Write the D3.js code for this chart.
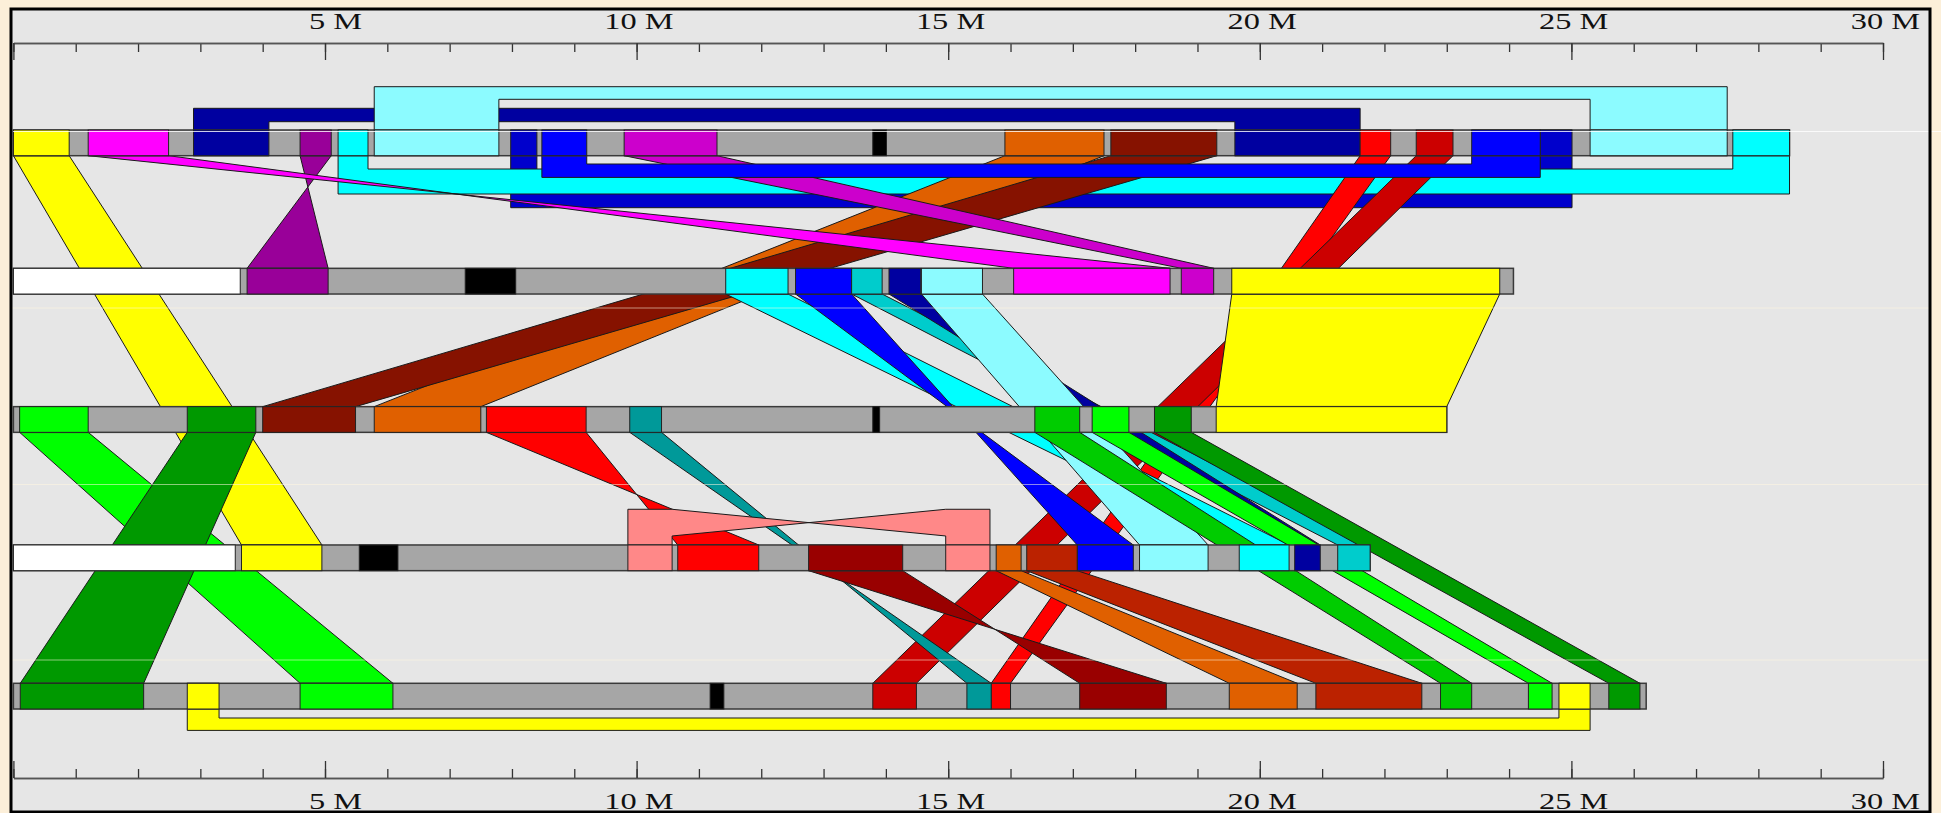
<!DOCTYPE html>
<html>
<head>
<meta charset="utf-8">
<script src="https://cdn.jsdelivr.net/npm/d3@7"></script>
<style>
  body { margin: 0; background: #fcefd9; overflow: hidden; }
  .tick line { stroke: #333; stroke-width: 1.3; }
  .domain { stroke: #555; stroke-width: 1.3; }
  .label { font-family: "Liberation Serif", "Times New Roman", serif; font-size: 24px; fill: #111; }
</style>
</head>
<body>
<div id="main"></div>
<script>
// ---- data (megabases) ----
const rowLengths = [28.5, 24.07, 23.0, 21.77, 26.2];

const majorTicks = [0, 5, 10, 15, 20, 25, 30];
const tickLabels = ["", "5 M", "10 M", "15 M", "20 M", "25 M", "30 M"];
const minorTicks = [0,1,2,3,4,5,6,7,8,9,10,11,12,13,14,15,16,17,18,19,20,21,22,23,24,25,26,27,28,29,30];

// [row, start, end]
const centromeres = [[0, 13.79, 14.01], [1, 7.25, 8.06], [2, 13.79, 13.90], [3, 5.55, 6.17], [4, 11.18, 11.40]];
const unassigned = [[1, 0, 3.64], [3, 0, 3.56]];

// synteny links: [id, colour, row A, startA, endA, row B, startB, endB, reversed]
// listed in drawing order
const links = [
  ["medblueSelf", "medblue", 0, 7.98, 8.40, 0, 24.50, 25.01, false],
  ["cyanSelf",    "cyan",    0, 5.21, 5.69, 0, 27.59, 28.50, false],
  ["navySelf",    "navy",    0, 2.89, 4.10, 0, 19.60, 21.61, false],
  ["lcyanSelf",   "lightcyan", 0, 5.79, 7.79, 0, 25.30, 27.50, false],
  ["yellow14",    "yellow",  0, 0.00, 0.895, 3, 3.66, 4.95, false],
  ["red15",       "red",     0, 21.61, 22.10, 4, 15.69, 16.00, false],
  ["red15b",      "red2",    0, 22.51, 23.10, 4, 13.79, 14.49, false],
  ["orange13",    "orange",  0, 15.91, 17.50, 2, 5.79, 7.50, false],
  ["brown13",     "brown",   0, 17.61, 19.31, 2, 4.00, 5.49, false],
  ["purple12",    "purple",  0, 4.60, 5.10, 1, 3.75, 5.05, true],
  ["magenta12",   "magenta", 0, 1.20, 2.49, 1, 16.05, 18.56, true],
  ["orchid12",    "orchid",  0, 9.80, 11.29, 1, 18.74, 19.26, false],
  ["blueSelf",    "blue",    0, 8.48, 9.20, 0, 23.40, 24.50, false],
  ["yellow23",    "yellow",  1, 19.55, 23.85, 2, 19.30, 23.00, false],
  ["cyan24",      "cyan",    1, 11.43, 12.43, 3, 19.67, 20.47, false],
  ["blue24",      "blue",    1, 12.55, 13.45, 3, 17.07, 17.97, true],
  ["teal24",      "teal",    1, 13.45, 13.94, 3, 21.25, 21.77, false],
  ["navy24",      "navy",    1, 14.05, 14.56, 3, 20.56, 20.97, false],
  ["lcyan24",     "lightcyan", 1, 14.57, 15.55, 3, 18.07, 19.17, false],
  ["red34",       "red",     2, 7.59, 9.19, 3, 10.66, 11.96, true],
  ["teal35",      "teal2",   2, 9.89, 10.40, 4, 15.30, 15.69, true],
  ["green35",     "green",   2, 0.10, 1.20, 4, 4.60, 6.09, false],
  ["dkgreen35",   "dkgreen", 2, 2.79, 3.89, 4, 0.11, 2.09, false],
  ["green35b",    "green2",  2, 16.39, 17.11, 4, 22.90, 23.40, false],
  ["green35c",    "green",   2, 17.31, 17.90, 4, 24.31, 24.69, false],
  ["dkgreen35b",  "dkgreen", 2, 18.31, 18.90, 4, 25.60, 26.10, false],
  ["pinkSelf",    "pink",    3, 9.86, 10.57, 3, 14.96, 15.67, true],
  ["dkred45",     "dkred",   3, 12.76, 14.27, 4, 17.11, 18.50, true],
  ["orange45",    "orange",  3, 15.77, 16.17, 4, 19.51, 20.60, false],
  ["rust45",      "rust",    3, 16.26, 17.07, 4, 20.90, 22.60, false],
  ["yellowSelf",  "yellow",  4, 2.79, 3.30, 4, 24.80, 25.30, false]
];

// ---- styles / layout ----
const palette = {
  yellow: "#ffff00", magenta: "#ff00ff", navy: "#0000a0", purple: "#990099",
  cyan: "#00ffff", lightcyan: "#8cfbff", medblue: "#0000cc", blue: "#0000ff",
  orchid: "#cc00cc", orange: "#e06000", brown: "#861200", red: "#ff0000",
  red2: "#cc0000", teal: "#00cccc", teal2: "#009999", green: "#00ff00",
  dkgreen: "#009900", green2: "#00cc00", pink: "#ff8888", dkred: "#990000",
  rust: "#bb2200"
};

// same-chromosome links are drawn as brackets; offsets in px from the row edge
const lanes = {
  medblueSelf: { side: "below", inner: 37, outer: 52 },
  cyanSelf:    { side: "below", inner: 13.3, outer: 38.3 },
  blueSelf:    { side: "below", inner: 8.3, outer: 21.7 },
  navySelf:    { side: "above", inner: 8.3, outer: 21.7 },
  lcyanSelf:   { side: "above", inner: 30.7, outer: 43.3 },
  pinkSelf:    { side: "above", inner: 9, outer: 35.7 },
  yellowSelf:  { side: "below", inner: 9, outer: 21.4 }
};

const width = 1941, height = 813;
const rowH = 25.7;

const svg = d3.select('#main').append('svg')
  .attr('width', width)
  .attr('height', height);

svg.append('rect')
  .attr('width', width).attr('height', height)
  .attr('fill', '#fcefd9');

// grey panel
svg.append('rect')
  .attr('x', 11).attr('y', 9)
  .attr('width', 1919).attr('height', 803)
  .attr('fill', '#e6e6e6');

let x = d3.scaleLinear().domain([0, 30]).range([13.4, 1883]);
let rowY = d3.scaleLinear().domain([0, 4]).range([130, 683.3]);

// ---- axes ----
function drawAxis(y, top) {
  let axisFn = top ? d3.axisBottom : d3.axisTop;
  let g = svg.append('g').attr('transform', 'translate(0,' + y + ')');
  g.append('g').call(axisFn(x).tickValues(minorTicks).tickSize(9).tickSizeOuter(0).tickFormat(''));
  g.append('g').call(axisFn(x).tickValues(majorTicks).tickSize(17).tickSizeOuter(0).tickFormat(''));
  svg.append('g').selectAll('text')
    .data(majorTicks)
    .enter().append('text')
    .attr('class', 'label')
    .attr('text-anchor', 'end')
    .attr('transform', function(d) {
      return 'translate(' + (x(d) + 37) + ',' + (top ? 28.5 : 808.5) + ') scale(1.35,1)';
    })
    .text(function(d, i) { return tickLabels[i]; });
}
drawAxis(43, true);
drawAxis(778, false);

// ---- links ----
let linkLayer = svg.append('g').attr('class', 'links');

function bracketGeom(d) {
  let lane = lanes[d[0]];
  let r = d[2];
  let top = rowY(r), bottom = rowY(r) + rowH;
  let edge, outerY, innerY;
  if (lane.side === 'above') {
    edge = bottom; outerY = top - lane.outer; innerY = top - lane.inner;
  } else {
    edge = top; outerY = bottom + lane.outer; innerY = bottom + lane.inner;
  }
  return { L1: x(d[3]), L2: x(d[4]), R1: x(d[6]), R2: x(d[7]), edge: edge, o: outerY, i: innerY };
}

function fillPath(d) {
  if (d[2] === d[5]) {
    let g = bracketGeom(d);
    if (!d[8]) {
      return 'M' + g.L1 + ',' + g.edge + 'V' + g.o + 'H' + g.R2 + 'V' + g.edge +
             'H' + g.R1 + 'V' + g.i + 'H' + g.L2 + 'V' + g.edge + 'Z';
    }
    return 'M' + g.L1 + ',' + g.edge + 'V' + g.o + 'H' + g.L2 + 'V' + g.edge + 'Z' +
           'M' + g.R1 + ',' + g.edge + 'V' + g.o + 'H' + g.R2 + 'V' + g.edge + 'Z' +
           'M' + g.L2 + ',' + g.o + 'L' + g.R1 + ',' + g.i + 'L' + g.R1 + ',' + g.o +
           'L' + g.L2 + ',' + g.i + 'Z';
  }
  let y0 = rowY(d[2]) + rowH, y1 = rowY(d[5]);
  let a = x(d[3]), b = x(d[4]), c = x(d[6]), e = x(d[7]);
  if (d[8]) {
    return 'M' + a + ',' + y0 + 'L' + b + ',' + y0 + 'L' + c + ',' + y1 + 'L' + e + ',' + y1 + 'Z';
  }
  return 'M' + a + ',' + y0 + 'L' + b + ',' + y0 + 'L' + e + ',' + y1 + 'L' + c + ',' + y1 + 'Z';
}

function strokePath(d) {
  if (d[2] === d[5] && d[8]) {
    let g = bracketGeom(d);
    return 'M' + g.L1 + ',' + g.edge + 'V' + g.o + 'H' + g.L2 + 'L' + g.R1 + ',' + g.i + 'V' + g.edge +
           'M' + g.L2 + ',' + g.edge + 'V' + g.i + 'L' + g.R1 + ',' + g.o + 'H' + g.R2 + 'V' + g.edge;
  }
  return fillPath(d);
}

let linkG = linkLayer.selectAll('g')
  .data(links)
  .enter().append('g');

linkG.append('path')
  .attr('d', fillPath)
  .attr('fill', function(d) { return palette[d[1]]; })
  .attr('stroke', 'none');

linkG.append('path')
  .attr('d', strokePath)
  .attr('fill', 'none')
  .attr('stroke', '#1a1a1a')
  .attr('stroke-width', 1)
  .attr('stroke-linejoin', 'round');

// ---- chromosomes ----
let rows = svg.append('g').attr('class', 'rows');

rows.selectAll('rect.chrom')
  .data(rowLengths)
  .enter().append('rect')
  .attr('class', 'chrom')
  .attr('x', x(0))
  .attr('y', function(d, i) { return rowY(i); })
  .attr('width', function(d) { return x(d) - x(0); })
  .attr('height', rowH)
  .attr('fill', '#a6a6a6')
  .attr('stroke', '#3a3a3a')
  .attr('stroke-width', 1.5);

// coloured blocks come from both ends of every link
let segs = [];
links.forEach(function(d) {
  segs.push({ row: d[2], s: d[3], e: d[4], fill: palette[d[1]] });
  segs.push({ row: d[5], s: d[6], e: d[7], fill: palette[d[1]] });
});
unassigned.forEach(function(d) { segs.push({ row: d[0], s: d[1], e: d[2], fill: '#ffffff' }); });
centromeres.forEach(function(d) { segs.push({ row: d[0], s: d[1], e: d[2], fill: '#000000' }); });

rows.selectAll('rect.seg')
  .data(segs)
  .enter().append('rect')
  .attr('class', 'seg')
  .attr('x', function(d) { return x(d.s); })
  .attr('y', function(d) { return rowY(d.row); })
  .attr('width', function(d) { return x(d.e) - x(d.s); })
  .attr('height', rowH)
  .attr('fill', function(d) { return d.fill; })
  .attr('stroke', '#222')
  .attr('stroke-width', 1);

// faint scan lines seen on the original image
svg.append('line')
  .attr('x1', 13).attr('x2', width).attr('y1', 131.5).attr('y2', 131.5)
  .attr('stroke', '#ffffff').attr('stroke-opacity', 0.8).attr('stroke-width', 1);
[308, 484.5, 660].forEach(function(y) {
  svg.append('line')
    .attr('x1', 11).attr('x2', 1930).attr('y1', y).attr('y2', y)
    .attr('stroke', '#fff6e0').attr('stroke-opacity', 0.55).attr('stroke-width', 1);
});

// panel frame on top
svg.append('rect')
  .attr('x', 11).attr('y', 9)
  .attr('width', 1919).attr('height', 803)
  .attr('fill', 'none')
  .attr('stroke', '#000')
  .attr('stroke-width', 3);
</script>
</body>
</html>
